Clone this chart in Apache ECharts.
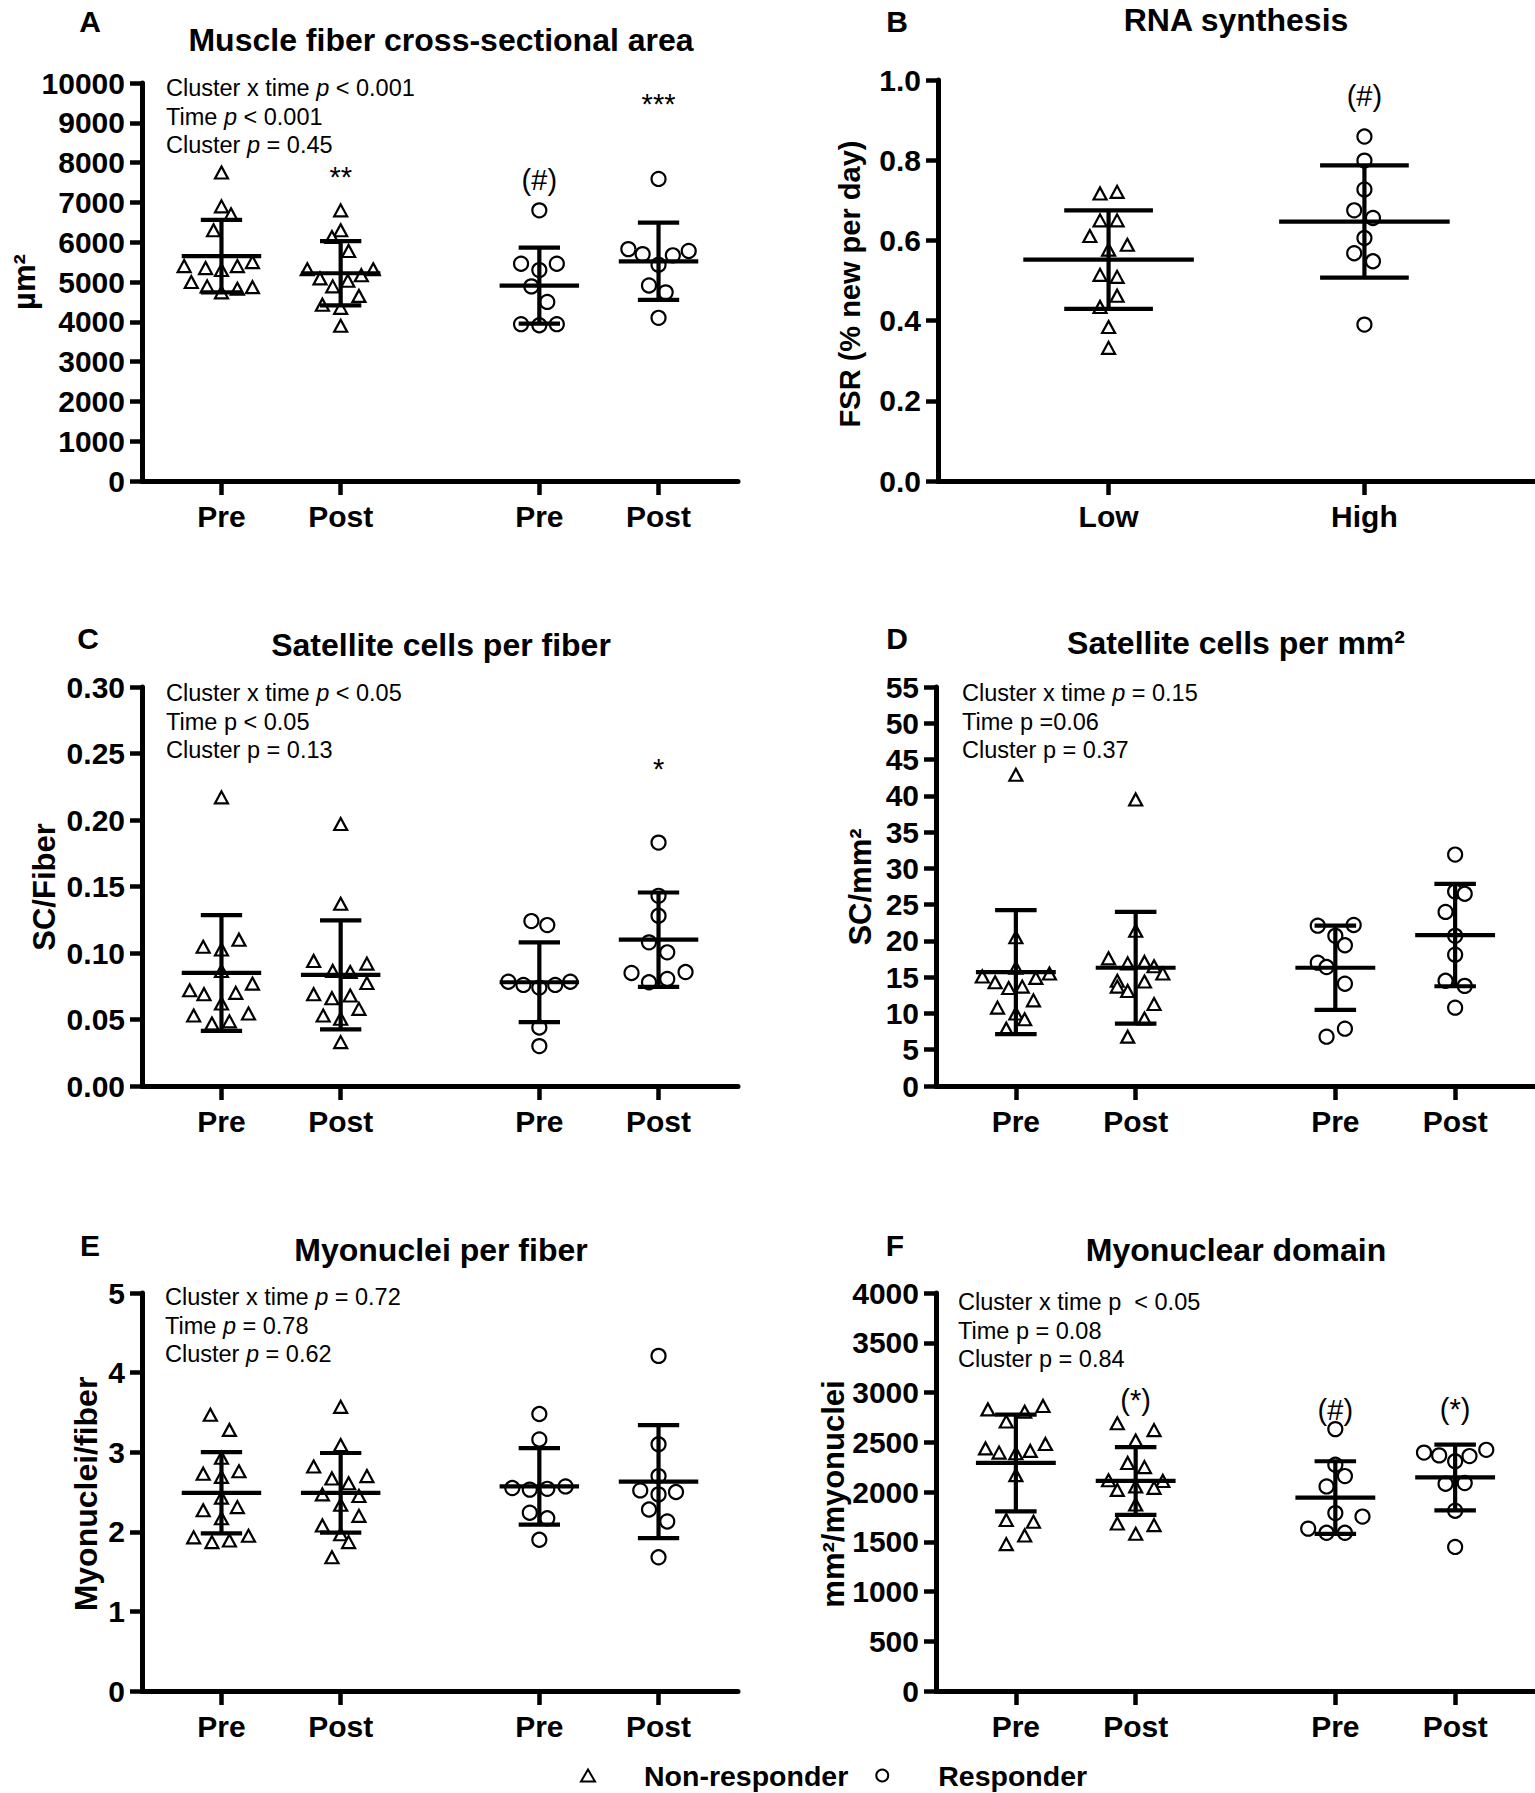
<!DOCTYPE html>
<html><head><meta charset="utf-8">
<script src="https://cdn.jsdelivr.net/npm/echarts@6/dist/echarts.min.js"></script>
<style>html,body{margin:0;padding:0;background:#fff}#c{width:1535px;height:1793px}</style>
</head><body><div id="c"></div>
<script>
const FONT = '"Liberation Sans", Arial, Helvetica, sans-serif';

// ---- category positions / tick labels ----
const pos4 = [1, 2.5, 5, 6.5];
const labels4 = ['Pre', 'Post', 'Pre', 'Post'];
const pos2 = [1, 2.5];
const labels2 = ['Low', 'High'];

// ---- Panel A: Muscle fiber CSA (µm²) ----
const aPreNR   = [7750,6900,6700,6300,5400,5350,5300,5400,5500,5000,4890,4830,4870,4740];
const aPreNRdx = [0,0,0.12,-0.1,-0.47,-0.2,0,0.2,0.39,-0.38,-0.18,0.2,0.39,0];
const aPostNR   = [6800,6300,6130,5780,5320,5320,5170,5090,5030,4890,4650,4430,4350,3900];
const aPostNRdx = [0,0,-0.11,0.1,-0.42,0.41,0.26,-0.26,0.09,-0.1,0.23,-0.23,0,0];
const aPreR   = [6800,5460,5460,5300,4890,4500,3940,3913,3940];
const aPreRdx = [0,-0.23,0.22,0,-0.1,0.1,-0.23,0,0.22];
const aPostR   = [7590,5826,5700,5670,5780,5435,4913,4740,4100];
const aPostRdx = [0,-0.38,-0.2,0.18,0.38,0,-0.12,0.09,0];
const aMean = [5650,5220,4910,5520];
const aSD   = [910,805,955,970];
const aMarks = [[1,7650,'**'],[2,7560,'(#)'],[3,9480,'***']];
const aStats = [['Cluster x time ','p',' < 0.001'],['Time ','p',' < 0.001'],['Cluster ','p',' = 0.45']];

// ---- Panel B: RNA synthesis ----
const bLow   = [0.717,0.721,0.650,0.650,0.611,0.589,0.577,0.514,0.509,0.462,0.434,0.384,0.332];
const bLowdx = [-0.05,0.05,-0.05,0.05,-0.11,0.11,0,-0.05,0.05,0.05,-0.05,0,0];
const bHigh   = [0.859,0.799,0.727,0.675,0.656,0.606,0.568,0.548,0.390];
const bHighdx = [0,0,0,-0.06,0.05,0,-0.06,0.05,0];
const bMean = [0.552,0.647];
const bSD   = [0.123,0.140];
const bMarks = [[1,0.96,'(#)']];

// ---- Panel C: Satellite cells per fiber ----
const cPreNR   = [0.217,0.1047,0.1026,0.110,0.0865,0.072,0.069,0.070,0.077,0.062,0.053,0.047,0.0486,0.0545];
const cPreNRdx = [0,-0.23,0,0.22,0,-0.4,-0.22,0.18,0.39,0,-0.35,-0.12,0.1,0.34];
const cPostNR   = [0.197,0.137,0.094,0.092,0.0865,0.0857,0.0774,0.069,0.066,0.068,0.058,0.053,0.0506,0.033];
const cPostNRdx = [0,0,-0.34,0.33,-0.1,0.12,0.33,-0.34,-0.11,0.12,0.23,-0.22,0,0];
const cPreR   = [0.124,0.121,0.0784,0.076,0.074,0.076,0.0784,0.044,0.030];
const cPreRdx = [-0.1,0.1,-0.39,-0.2,0,0.2,0.39,0,0];
const cPostR   = [0.183,0.143,0.128,0.108,0.1005,0.085,0.0857,0.0805,0.078];
const cPostRdx = [0,0,0,-0.12,0.11,-0.34,0.34,0.11,-0.12];
const cMean = [0.085,0.0836,0.078,0.110];
const cSD   = [0.0435,0.041,0.030,0.0355];
const cMarks = [[3,0.238,'*']];
const cStats = [['Cluster x time ','p',' < 0.05'],['Time p < 0.05','',''],['Cluster p = 0.13','','']];

// ---- Panel D: Satellite cells per mm² ----
const dPreNR   = [42.9,20.5,16.3,15.1,15.5,14.9,14.3,13.7,13.5,11.8,10.8,10.0,9.2,7.9];
const dPreNRdx = [0,0,0,-0.42,0.42,0.25,-0.26,0.08,-0.09,0.22,-0.23,0,0.11,-0.12];
const dPostNR   = [39.5,21.4,17.6,16.9,17.1,16.5,15.5,14.5,14.4,13.7,13.1,11.3,9.3,6.8];
const dPostNRdx = [0,0,-0.34,-0.1,0.11,0.23,0.34,-0.23,0.11,-0.23,-0.1,0.23,0.11,-0.1];
const dPreR   = [22.1,22.2,20.7,19.4,17.0,16.4,14.1,7.9,6.8];
const dPreRdx = [-0.22,0.23,0,0.12,-0.22,-0.11,0.12,0.12,-0.11];
const dPostR   = [31.9,26.8,26.5,24.0,20.7,18.1,14.5,13.8,10.8];
const dPostRdx = [0,0,0.12,-0.12,0,0,-0.12,0.12,0];
const dMean = [15.7,16.3,16.3,20.8];
const dSD   = [8.55,7.7,5.8,7.05];
const dStats = [['Cluster x time ','p',' = 0.15'],['Time p =0.06','',''],['Cluster p = 0.37','','']];

// ---- Panel E: Myonuclei per fiber ----
const ePreNR   = [3.47,3.28,2.93,2.73,2.76,2.69,2.43,2.31,2.27,2.17,1.93,1.87,1.89,1.95];
const ePreNRdx = [-0.14,0.1,0,-0.23,0.22,0,0,0.2,-0.23,0,-0.35,-0.12,0.1,0.34];
const ePostNR   = [3.57,3.09,2.82,2.67,2.70,2.61,2.47,2.45,2.34,2.20,2.08,1.97,1.87,1.68];
const ePostNRdx = [0,0,-0.34,-0.11,0.33,0.1,-0.23,0.23,0,0.23,-0.23,0,0.1,-0.11];
const ePreR   = [3.48,3.16,2.55,2.53,2.54,2.57,2.24,2.17,1.90];
const ePreRdx = [0,0,-0.34,-0.12,0.1,0.33,-0.12,0.1,0];
const ePostR   = [4.21,3.10,2.70,2.52,2.50,2.47,2.28,2.13,1.68];
const ePostRdx = [0,0,0,-0.23,0.22,0,-0.12,0.11,0];
const eMean = [2.49,2.49,2.57,2.63];
const eSD   = [0.51,0.50,0.48,0.71];
const eStats = [['Cluster x time ','p',' = 0.72'],['Time ','p',' = 0.78'],['Cluster ','p',' = 0.62']];

// ---- Panel F: Myonuclear domain ----
const fPreNR   = [2830,2865,2806,2708,2438,2396,2389,2413,2483,2170,1719,1701,1563,1476];
const fPreNRdx = [-0.35,0.34,0.11,-0.12,-0.38,-0.21,0,0.18,0.37,0,-0.12,0.22,0.11,-0.12];
const fPostNR   = [2691,2622,2517,2292,2250,2118,2111,2021,2056,2042,1875,1684,1667,1580];
const fPostNRdx = [-0.23,0.23,0,-0.1,0.11,-0.34,0.34,-0.23,0,0.23,0,-0.23,0.23,0];
const fPreR   = [2632,2274,2160,2056,1788,1753,1632,1590,1590];
const fPreRdx = [0,0,0.12,-0.11,0,0.34,-0.34,-0.11,0.12];
const fPostR   = [2396,2368,2361,2424,2309,2083,2090,1812,1448];
const fPostRdx = [-0.39,-0.2,0.18,0.39,0,-0.12,0.12,0,0];
const fMean = [2292,2111,1944,2146];
const fSD   = [486,340,365,330];
const fMarks = [[1,2920,'(*)'],[2,2820,'(#)'],[3,2835,'(*)']];
const fStats = [['Cluster x time p  < 0.05','',''],['Time p = 0.08','',''],['Cluster p = 0.84','','']];

// ---------------------------------------------------------
const panels = [
  {grid:{left:142,top:83,width:596,height:398}, xmax:7.5, pos:pos4, labels:labels4,
   ymax:10000, interval:1000, dec:0,
   nr:[[0,aPreNR,aPreNRdx],[1,aPostNR,aPostNRdx]], r:[[2,aPreR,aPreRdx],[3,aPostR,aPostRdx]],
   mean:aMean, sd:aSD, marks:aMarks},
  {grid:{left:938,top:80,width:597,height:401}, xmax:3.5, pos:pos2, labels:labels2,
   ymax:1.0, interval:0.2, dec:1,
   nr:[[0,bLow,bLowdx]], r:[[1,bHigh,bHighdx]], mean:bMean, sd:bSD, marks:bMarks},
  {grid:{left:142,top:687,width:596,height:399}, xmax:7.5, pos:pos4, labels:labels4,
   ymax:0.30, interval:0.05, dec:2,
   nr:[[0,cPreNR,cPreNRdx],[1,cPostNR,cPostNRdx]], r:[[2,cPreR,cPreRdx],[3,cPostR,cPostRdx]],
   mean:cMean, sd:cSD, marks:cMarks},
  {grid:{left:936,top:687,width:599,height:399}, xmax:7.5, pos:pos4, labels:labels4,
   ymax:55, interval:5, dec:0,
   nr:[[0,dPreNR,dPreNRdx],[1,dPostNR,dPostNRdx]], r:[[2,dPreR,dPreRdx],[3,dPostR,dPostRdx]],
   mean:dMean, sd:dSD, marks:[]},
  {grid:{left:142,top:1293,width:596,height:398}, xmax:7.5, pos:pos4, labels:labels4,
   ymax:5, interval:1, dec:0,
   nr:[[0,ePreNR,ePreNRdx],[1,ePostNR,ePostNRdx]], r:[[2,ePreR,ePreRdx],[3,ePostR,ePostRdx]],
   mean:eMean, sd:eSD, marks:[]},
  {grid:{left:936,top:1293,width:599,height:398}, xmax:7.5, pos:pos4, labels:labels4,
   ymax:4000, interval:500, dec:0,
   nr:[[0,fPreNR,fPreNRdx],[1,fPostNR,fPostNRdx]], r:[[2,fPreR,fPreRdx],[3,fPostR,fPostRdx]],
   mean:fMean, sd:fSD, marks:fMarks}
];

function renderBar(params, api) {
  const x = api.value(0), m = api.value(1), s = api.value(2);
  const c = api.coord([x, m]), t = api.coord([x, m + s]), b = api.coord([x, m - s]);
  const hw = api.size([0.5, 0])[0], cw = api.size([0.26, 0])[0];
  const st = {stroke: '#000', lineWidth: 4.2};
  return {type: 'group', children: [
    {type: 'line', shape: {x1: c[0] - hw, y1: c[1], x2: c[0] + hw, y2: c[1]}, style: st},
    {type: 'line', shape: {x1: c[0], y1: t[1], x2: c[0], y2: b[1]}, style: st},
    {type: 'line', shape: {x1: c[0] - cw, y1: t[1], x2: c[0] + cw, y2: t[1]}, style: st},
    {type: 'line', shape: {x1: c[0] - cw, y1: b[1], x2: c[0] + cw, y2: b[1]}, style: st}
  ]};
}

const grids = [], xAxes = [], yAxes = [], series = [];
const axisLineStyle = {color: '#000', width: 5};
panels.forEach((p, i) => {
  grids.push(Object.assign({containLabel: false}, p.grid));
  xAxes.push({type: 'value', gridIndex: i, min: 0, max: p.xmax,
    splitLine: {show: false},
    axisLine: {show: true, onZero: false, lineStyle: axisLineStyle},
    axisTick: {show: true, length: 14, lineStyle: {color: '#000', width: 4.5}, customValues: p.pos},
    axisLabel: {show: true, customValues: p.pos, margin: 20, color: '#000', fontFamily: FONT,
      fontSize: 30, fontWeight: 'bold',
      formatter: (v) => { const k = p.pos.findIndex(q => Math.abs(q - v) < 1e-6); return k >= 0 ? p.labels[k] : ''; }}
  });
  yAxes.push({type: 'value', gridIndex: i, min: 0, max: p.ymax, interval: p.interval,
    splitLine: {show: false},
    axisLine: {show: true, lineStyle: axisLineStyle},
    axisTick: {show: true, length: 12, lineStyle: {color: '#000', width: 4.5}},
    axisLabel: {margin: 17, color: '#000', fontFamily: FONT, fontSize: 30, fontWeight: 'bold',
      formatter: (v) => Number(v).toFixed(p.dec)}
  });
  const nrData = [], rData = [];
  p.nr.forEach(([g, vals, dx]) => vals.forEach((v, k) => nrData.push([p.pos[g] + dx[k], v])));
  p.r.forEach(([g, vals, dx]) => vals.forEach((v, k) => rData.push([p.pos[g] + dx[k], v])));
  series.push({name: 'Non-responder', type: 'scatter', xAxisIndex: i, yAxisIndex: i,
    symbol: 'triangle', symbolSize: [13, 12], silent: true, z: 2,
    itemStyle: {color: '#fff', borderColor: '#000', borderWidth: 2.2, opacity: 1},
    data: nrData});
  series.push({name: 'Responder', type: 'scatter', xAxisIndex: i, yAxisIndex: i,
    symbol: 'circle', symbolSize: 14, silent: true, z: 2,
    itemStyle: {color: '#fff', borderColor: '#000', borderWidth: 2.2, opacity: 1},
    data: rData});
  series.push({type: 'custom', xAxisIndex: i, yAxisIndex: i, silent: true, z: 3,
    renderItem: renderBar, encode: {x: 0, y: 1},
    data: p.pos.map((q, g) => [q, p.mean[g], p.sd[g]])});
  if (p.marks.length) {
    series.push({type: 'scatter', xAxisIndex: i, yAxisIndex: i, silent: true, z: 4,
      symbol: 'rect', symbolSize: 1, itemStyle: {color: 'rgba(0,0,0,0)'},
      label: {show: true, position: 'inside', color: '#000', fontFamily: FONT, fontSize: 29,
        fontWeight: 'normal', textBorderWidth: 0, textShadowBlur: 0, opacity: 1,
        formatter: (d) => d.data[2]},
      data: p.marks.map(([g, y, t]) => [p.pos[g], y, t])});
  }
});

// ---- texts ----
function txt(x, y, text, size, opts) {
  return Object.assign({type: 'text', x: x, y: y, silent: true,
    style: Object.assign({text: text, fontFamily: FONT, fontSize: size, fontWeight: 'bold', fill: '#000',
      textAlign: 'center', align: 'center', textVerticalAlign: 'middle', verticalAlign: 'middle'}, (opts && opts.style) || {})},
    opts && opts.rotation !== undefined ? {rotation: opts.rotation} : {});
}
function statsBlock(x, yFirst, lines) {
  const lh = 28.5;
  const txtStr = lines.map(([a, b, c]) => {
    let s = '{n|' + a + '}';
    if (b) s += '{i|' + b + '}';
    if (c) s += '{n|' + c + '}';
    return s;
  }).join('\n');
  return {type: 'text', x: x, y: yFirst - lh / 2, silent: true,
    style: {text: txtStr, fontFamily: FONT, fontSize: 23.5, fill: '#000',
      textAlign: 'left', align: 'left', textVerticalAlign: 'top', verticalAlign: 'top',
      rich: {
        n: {fontFamily: FONT, fontSize: 23.5, lineHeight: lh, fill: '#000', color: '#000'},
        i: {fontFamily: FONT, fontSize: 23.5, lineHeight: lh, fontStyle: 'italic', fill: '#000', color: '#000'}
      }}};
}
const R90 = Math.PI / 2;
const graphics = [
  txt(90, 21, 'A', 30), txt(441, 40, 'Muscle fiber cross-sectional area', 32),
  txt(897, 21, 'B', 30), txt(1236, 20, 'RNA synthesis', 32),
  txt(88, 638, 'C', 30), txt(441, 645, 'Satellite cells per fiber', 32),
  txt(897, 638, 'D', 30), txt(1236, 643, 'Satellite cells per mm²', 32),
  txt(90, 1245, 'E', 30), txt(441, 1250, 'Myonuclei per fiber', 32),
  txt(895, 1245, 'F', 30), txt(1236, 1250, 'Myonuclear domain', 32),
  txt(24, 282, 'µm²', 31, {rotation: R90}),
  txt(850, 284, 'FSR (% new per day)', 29, {rotation: R90}),
  txt(44, 887, 'SC/Fiber', 31, {rotation: R90}),
  txt(860, 887, 'SC/mm²', 31, {rotation: R90}),
  txt(86, 1494, 'Myonuclei/fiber', 32, {rotation: R90}),
  txt(833, 1494, 'mm²/myonuclei', 31, {rotation: R90}),
  statsBlock(166, 88, aStats),
  statsBlock(166, 693, cStats),
  statsBlock(962, 693, dStats),
  statsBlock(165, 1297, eStats),
  statsBlock(958, 1302, fStats)
];

const chart = echarts.init(document.getElementById('c'), null, {renderer: 'svg', width: 1535, height: 1793});
chart.setOption({
  animation: false,
  backgroundColor: '#fff',
  grid: grids, xAxis: xAxes, yAxis: yAxes, series: series,
  graphic: graphics,
  legend: {data: ['Non-responder', 'Responder'], left: 580, top: 1761, orient: 'horizontal',
    itemWidth: 14, itemHeight: 12, itemGap: 27, selectedMode: false, padding: 0,
    formatter: (n) => '{g|}{t|' + n + '}',
    textStyle: {color: '#000', rich: {g: {width: 44}, t: {fontFamily: FONT, fontSize: 28.5, lineHeight: 30, fontWeight: 'bold', color: '#000'}}}}
});
</script></body></html>
